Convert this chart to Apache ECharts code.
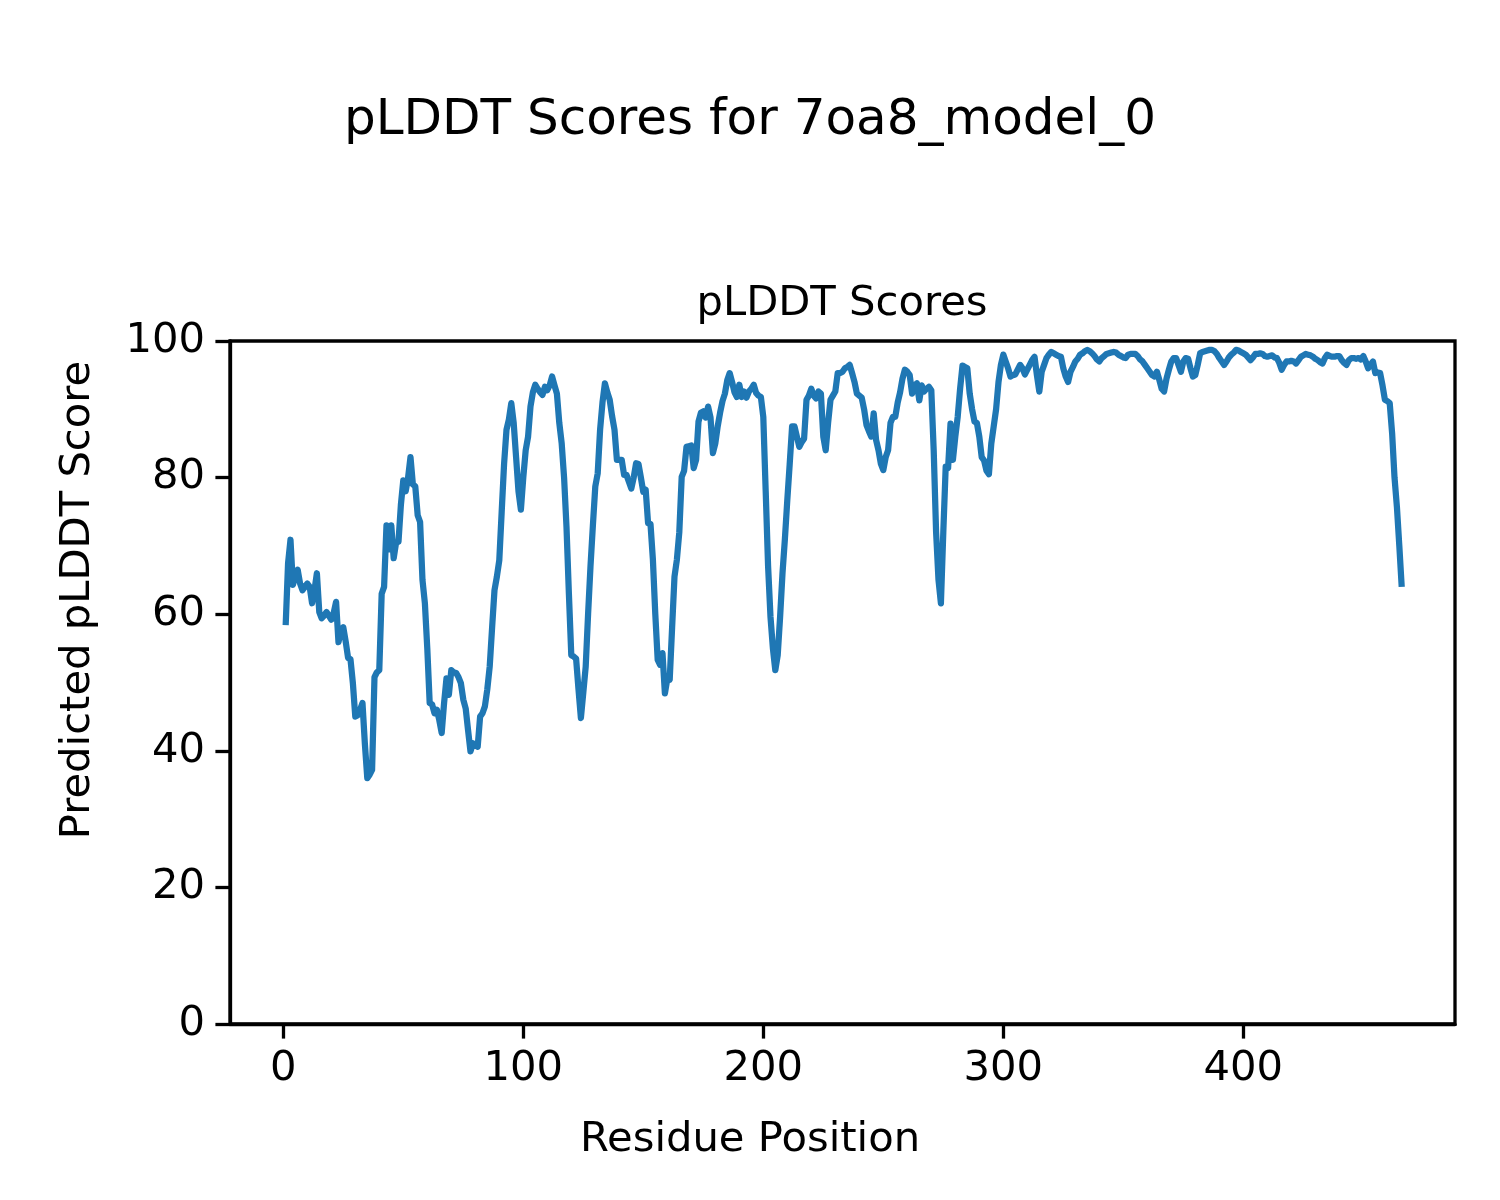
<!DOCTYPE html>
<html><head><meta charset="utf-8">
<script src="https://cdn.jsdelivr.net/npm/echarts@6/dist/echarts.min.js"></script>
<style>html,body{margin:0;padding:0;background:#fff}#c{width:1500px;height:1200px}</style>
</head><body><div id="c"></div>
<script>
const title = "pLDDT Scores for 7oa8_model_0";
const subTitle = "pLDDT Scores";
const xLabel = "Residue Position";
const yLabel = "Predicted pLDDT Score";
const xTicks = [0, 100, 200, 300, 400];
const plddt = [
58.4,67.5,70.9,64.3,65.5,66.5,64.5,63.5,64.0,64.5,64.0,61.6,63.5,66.0,60.3,59.4,59.8,60.3,59.8,59.2,
60.2,61.8,55.9,57.5,58.1,56.0,53.6,53.4,49.9,45.0,45.2,46.0,47.0,41.0,36.0,36.5,37.2,50.8,51.5,51.8,
63.0,64.0,73.0,69.5,73.0,68.2,70.5,70.6,76.0,79.6,78.0,80.0,83.0,79.0,78.7,74.5,73.5,65.0,61.6,55.0,
47.0,46.8,45.5,46.0,44.5,42.6,47.0,50.6,48.2,51.8,51.5,51.4,50.8,49.9,47.5,46.2,43.0,39.9,41.1,40.8,
40.6,45.0,45.5,46.5,49.0,52.3,58.0,63.5,65.5,67.9,75.0,82.0,87.0,88.5,90.9,88.0,83.0,78.0,75.3,80.0,
84.0,86.0,90.4,92.5,93.6,93.0,92.5,92.1,93.3,92.8,93.5,94.8,93.5,92.3,88.0,85.0,80.0,72.8,63.0,54.0,
53.8,53.5,49.0,44.8,48.5,52.3,60.0,67.0,73.0,78.7,80.6,87.0,91.0,93.8,92.5,91.4,89.0,87.0,82.6,82.6,
82.6,80.4,80.4,79.4,78.4,80.0,82.1,82.0,80.0,77.9,78.2,73.3,73.2,68.0,60.0,53.3,52.6,54.3,48.4,50.5,
50.4,58.0,65.5,68.0,72.0,80.1,81.0,84.5,84.6,84.7,81.4,82.6,88.2,89.5,89.7,88.8,90.4,88.8,83.6,85.0,
87.5,89.5,91.2,92.3,94.3,95.3,94.0,92.5,91.8,93.6,91.8,92.6,91.7,92.6,93.0,93.6,92.4,92.0,91.8,88.9,
78.0,67.0,59.6,55.0,51.8,54.0,59.6,66.0,71.0,76.7,82.0,87.5,87.5,86.0,84.5,85.2,85.7,91.4,92.0,93.0,
92.0,91.6,92.6,92.3,86.0,84.0,88.0,91.4,92.0,92.6,95.3,95.3,95.5,96.0,96.2,96.5,95.3,94.0,92.3,92.0,
91.7,90.0,87.7,86.8,86.0,89.4,85.5,84.0,82.0,81.1,83.0,84.0,88.0,88.9,88.9,91.0,92.5,94.5,95.8,95.5,
95.0,92.3,93.5,93.8,91.3,93.5,92.6,93.0,93.3,92.8,84.0,72.0,65.0,61.6,72.0,81.6,81.4,87.9,82.6,86.0,
88.9,93.0,96.4,96.2,96.0,92.3,90.0,88.2,88.0,86.0,83.0,82.5,81.0,80.5,85.0,87.5,90.0,94.0,96.5,98.0,
97.0,96.0,94.8,95.0,95.1,95.8,96.5,96.0,95.1,95.8,96.5,97.2,97.7,95.0,92.6,95.5,96.5,97.5,98.0,98.4,
98.2,98.0,97.8,97.7,96.0,94.8,94.0,95.5,96.2,97.0,97.4,98.0,98.2,98.5,98.7,98.5,98.2,97.8,97.3,97.0,
97.5,97.8,98.1,98.2,98.3,98.4,98.3,98.0,97.8,97.6,97.5,98.0,98.1,98.1,98.1,97.8,97.3,97.0,96.5,96.0,
95.5,95.0,94.8,95.5,94.3,93.0,92.6,94.5,95.8,97.0,97.5,97.5,96.5,95.5,97.0,97.5,97.4,96.0,94.8,95.0,
96.5,98.2,98.4,98.5,98.6,98.7,98.7,98.5,98.1,97.5,97.0,96.5,97.0,97.6,98.0,98.3,98.7,98.6,98.4,98.2,
98.0,97.6,97.2,97.6,98.1,98.1,98.2,98.1,97.8,97.7,97.8,97.9,97.6,97.5,96.8,95.8,96.5,97.0,97.0,97.1,
97.0,96.7,97.2,97.7,97.9,98.1,98.0,97.9,97.7,97.4,97.2,96.9,96.7,97.5,98.0,97.8,97.7,97.7,97.8,97.8,
97.2,96.8,96.5,97.2,97.5,97.5,97.4,97.5,97.3,97.8,97.0,96.0,96.5,97.0,95.3,95.4,95.3,93.5,91.4,91.2,
90.9,86.5,80.0,75.7,70.0,64.0
];
const seriesData = plddt.map((v, i) => [i + 1, v]);
const FONT = "DejaVu Sans";
const chart = echarts.init(document.getElementById('c'), null, {renderer: 'canvas'});
chart.setOption({
  animation: false,
  backgroundColor: '#ffffff',
  grid: {left: 230, top: 341, width: 1225, height: 683, containLabel: false,
         show: true, borderColor: '#000', borderWidth: 3.3, backgroundColor: 'transparent'},
  xAxis: {
    type: 'value', min: -22.2, max: 488.2,
    axisLine: {show: true, onZero: false, lineStyle: {color: '#000', width: 3.3}},
    axisTick: {show: true, inside: false, length: 14.6, lineStyle: {color: '#000', width: 3.3}, customValues: xTicks},
    axisLabel: {show: true, margin: 24, color: '#000', fontFamily: FONT, fontSize: 41.7, customValues: xTicks},
    splitLine: {show: false}
  },
  yAxis: {
    type: 'value', min: 0, max: 100, interval: 20,
    axisLine: {show: true, onZero: false, lineStyle: {color: '#000', width: 3.3}},
    axisTick: {show: true, inside: false, length: 14.6, lineStyle: {color: '#000', width: 3.3}},
    axisLabel: {show: true, margin: 25, color: '#000', fontFamily: FONT, fontSize: 41.7},
    splitLine: {show: false}
  },
  series: [{
    type: 'line', data: seriesData, showSymbol: false, symbol: 'none',
    lineStyle: {color: '#1f77b4', width: 6.25, join: 'round', cap: 'butt'},
    itemStyle: {color: '#1f77b4'}, clip: true
  }],
  graphic: [
    {type: 'text', left: 'center', top: 96, style: {text: title, fontFamily: FONT, fontSize: 50, fill: '#000'}},
    {type: 'text', x: 842, y: 304, style: {text: subTitle, fontFamily: FONT, fontSize: 41.7, fill: '#000', align: 'center', verticalAlign: 'middle'}},
    {type: 'text', x: 750, y: 1140, style: {text: xLabel, fontFamily: FONT, fontSize: 41.7, fill: '#000', align: 'center', verticalAlign: 'middle'}},
    {type: 'text', x: 78, y: 600, rotation: Math.PI / 2, style: {text: yLabel, fontFamily: FONT, fontSize: 41.7, fill: '#000', align: 'center', verticalAlign: 'middle'}}
  ]
});
</script></body></html>
